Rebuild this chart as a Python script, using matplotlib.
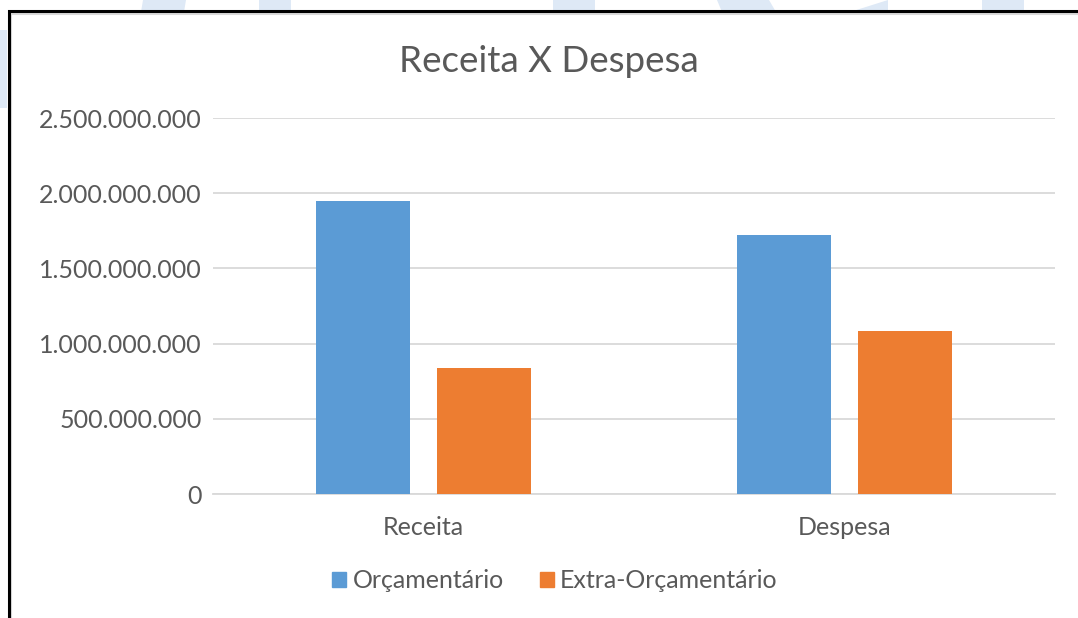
import matplotlib
matplotlib.use("Agg")
import matplotlib.pyplot as plt
import matplotlib.patches as mpatches
import numpy as np

matplotlib.rc("font", family="Lato")

# dados
categorias = ["Receita", "Despesa"]
orcamentario = [1948000000, 1722000000]
extra_orcamentario = [838000000, 1084000000]
series = ["Orçamentário", "Extra-Orçamentário"]
yticks = [0, 500000000, 1000000000, 1500000000, 2000000000, 2500000000]

azul = "#5B9BD5"
laranja = "#ED7D31"
cinza_txt = "#595959"
cinza_grid = "#D9D9D9"

W, H = 1078, 618
fig = plt.figure(figsize=(W / 100, H / 100), dpi=100, facecolor="white")

# manchas azul claro do fundo (marca d'agua)
fundo = "#DEE9F6"
manchas = [
    [(143, 0), (186, 0), (184, 12), (141, 12)],
    [(259, 0), (291, 0), (291, 12), (259, 12)],
    [(553, 0), (595, 0), (595, 12), (553, 12)],
    [(717, 0), (769, 0), (776, 12), (722, 12)],
    [(888, 0), (888, 10), (850, 12)],
    [(982, 0), (1024, 0), (1024, 12), (982, 12)],
    [(0, 30), (7, 30), (7, 108), (0, 108)],
]
for m in manchas:
    pts = [(x / W, 1 - y / H) for x, y in m]
    fig.patches.append(mpatches.Polygon(pts, closed=True, transform=fig.transFigure,
                                        facecolor=fundo, edgecolor="none", zorder=-3))

# moldura preta com sombra cinza
fig.patches.append(mpatches.Rectangle((10.5 / W, -0.1), 1.2, 1 - 13.5 / H + 0.1,
                                      transform=fig.transFigure, facecolor="white",
                                      edgecolor=cinza_grid, linewidth=1.5, zorder=-2))
fig.patches.append(mpatches.Rectangle((8.5 / W, -0.1), 1.2, 1 - 11.5 / H + 0.1,
                                      transform=fig.transFigure, facecolor="none",
                                      edgecolor="black", linewidth=2.2, zorder=-1))

ax = fig.add_axes([213 / W, 1 - 494 / H, (1055 - 213) / W, (494 - 118) / H])
ax.set_facecolor("none")
ax.set_zorder(5)

x = np.arange(len(categorias))
largura = 0.223
desloc = 0.144
ax.bar(x - desloc, orcamentario, largura, color=azul, label=series[0], zorder=3)
ax.bar(x + desloc, extra_orcamentario, largura, color=laranja, label=series[1], zorder=3)

ax.set_xlim(-0.5, 1.5)
ax.set_ylim(0, 2500000000)
ax.set_yticks(yticks)
ax.set_yticklabels(["{:,}".format(v).replace(",", ".") for v in yticks])
ax.set_xticks(x)
ax.set_xticklabels(categorias)

ax.grid(axis="y", color=cinza_grid, linewidth=1.3, zorder=0)
for s in ["top", "right", "left"]:
    ax.spines[s].set_visible(False)
ax.spines["bottom"].set_color(cinza_grid)
ax.spines["bottom"].set_linewidth(1.3)
ax.tick_params(axis="both", length=0, labelsize=18, colors=cinza_txt)
ax.tick_params(axis="y", pad=8)
ax.tick_params(axis="x", pad=16)

fig.text(549 / W, 1 - 62 / H, "Receita X Despesa", ha="center", va="center",
         fontsize=26.5, color=cinza_txt)

handles = [mpatches.Patch(color=azul), mpatches.Patch(color=laranja)]
fig.legend(handles, series, loc="center", bbox_to_anchor=(555 / W, 1 - 581 / H),
           ncol=2, frameon=False, fontsize=18, labelcolor=cinza_txt,
           handlelength=0.55, handleheight=0.55, handletextpad=0.25, columnspacing=1.45)

fig.savefig("out.png", dpi=100, facecolor="white")
